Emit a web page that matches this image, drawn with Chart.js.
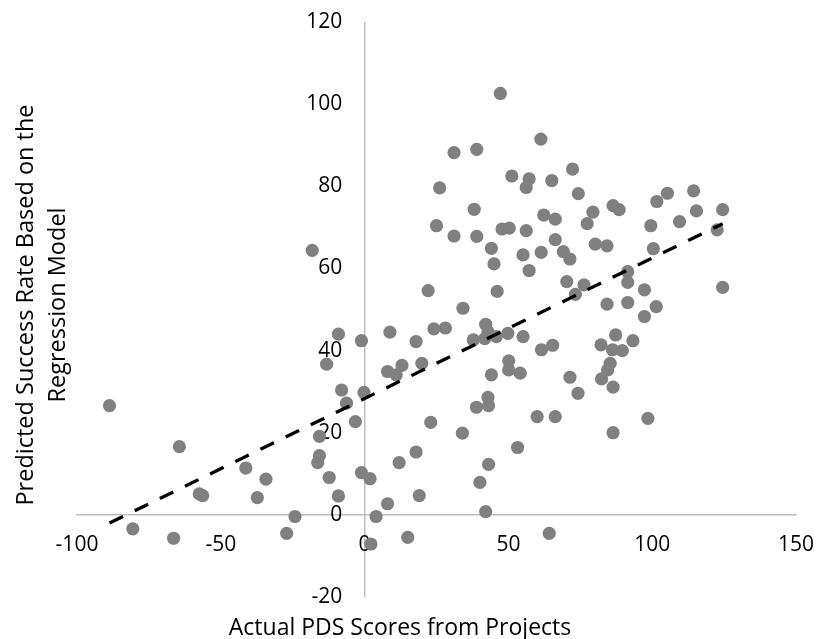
<!DOCTYPE html>
<html>
<head>
<meta charset="utf-8">
<title>Predicted Success Rate vs Actual PDS Scores</title>
<script src="https://cdn.jsdelivr.net/npm/chart.js@4.4.1/dist/chart.umd.min.js"></script>
<style>
    html, body { margin: 0; padding: 0; background: #fff; }
    #wrap { width: 832px; height: 639px; position: relative; }
</style>
</head>
<body>
<div id="wrap"><canvas id="pdsChart"></canvas></div>
<script>
// Actual PDS scores (x) for each project
const pdsScores = [
    -88.7, -64.4, -41.3, -34.3, -57.5, -56.3, -37.3, -80.6, -66.4, -24.2,
    -27.1, -15.7, -15.7, -16.3, -12.3, 34.2, -9.1, 8.8, -1.1, 24.1,
    28.1, 17.9, 42.1, 42.9, 37.8, 41.8, 45.8, 49.8, 55.1, 61.5,
    -13.2, 8, 11, 13, 19.9, 50.1, 50.1, 54.1, 44.1, -8,
    -6.3, -0.2, -3.2, 23, 42.9, 43.1, 38.9, 34, 60, -9.1,
    -1.1, 1.9, 12, 17.9, 53.2, 43.1, 40.1, 19, 8, 4,
    42.1, 15, 2.2, -18.2, 25, 22.1, 47.2, 61.3, 31.1, 39,
    26.1, 72.3, 51.2, 57.2, 56.2, 65.1, 74.3, 86.4, 88.5, 79.4,
    38.1, 62.3, 66.3, 77.4, 47.8, 50.3, 56.2, 31.1, 39, 66.3,
    80.2, 84.3, 44.1, 61.4, 69.1, 71.4, 55.1, 45, 57.2, 70.3,
    76.3, 73.3, 91.5, 91.5, 84.3, 91.5, 46.1, 101.6, 105.3, 114.4,
    115.4, 124.5, 109.5, 99.5, 122.6, 100.4, 97.3, 101.4, 97.3, 124.5,
    65.4, 82.2, 87.3, 93.3, 86.2, 89.6, 85.4, 84.5, 82.4, 71.4,
    74.2, 86.4, 66.3, 98.5, 86.4, 64.2
];

// Predicted success rate (y) from the regression model, same order
const predictedRates = [
    26.6, 16.6, 11.4, 8.7, 5.1, 4.7, 4.2, -3.4, -5.7, -0.4,
    -4.5, 19.1, 14.4, 12.7, 9.1, 50.3, 44.0, 44.5, 42.4, 45.3,
    45.5, 42.2, 46.4, 44.6, 42.6, 42.9, 43.4, 44.2, 43.4, 40.2,
    36.7, 34.9, 34.1, 36.4, 36.9, 37.5, 35.3, 34.5, 34.1, 30.4,
    27.2, 29.8, 22.7, 22.5, 28.6, 26.6, 26.2, 19.9, 23.9, 4.6,
    10.3, 8.8, 12.7, 15.3, 16.4, 12.3, 7.9, 4.7, 2.7, -0.4,
    0.8, -5.5, -7.1, 64.4, 70.4, 54.6, 102.6, 91.5, 88.2, 89,
    79.6, 84.2, 82.5, 81.8, 79.7, 81.4, 78.2, 75.3, 74.3, 73.7,
    74.4, 73, 72, 70.9, 69.6, 69.8, 69.2, 67.9, 67.8, 67,
    65.9, 65.5, 64.9, 63.9, 64.1, 62.3, 63.3, 61.1, 59.5, 56.8,
    56, 53.7, 59.2, 56.6, 51.3, 51.7, 54.4, 76.3, 78.3, 78.9,
    74, 74.3, 71.4, 70.4, 69.4, 64.8, 54.8, 50.7, 48.3, 55.4,
    41.3, 41.4, 43.8, 42.4, 40.2, 40, 36.9, 35.3, 33.1, 33.5,
    29.6, 31.1, 23.9, 23.5, 20, -4.5
];

// Linear trendline end points
const trendX = [-88.7, 124.5];
const trendY = [-2.0, 70.9];

// Axis ranges / ticks
const xTicks = [-100, -50, 0, 50, 100, 150];
const yTicks = [-20, 0, 20, 40, 60, 80, 100, 120];

const xTitle = 'Actual PDS Scores from Projects';
const yTitleLines = ['Predicted Success Rate Based on the', 'Regression Model'];

const AXIS_COLOR = '#bfbfbf';
const POINT_COLOR = '#808080';
const TEXT_COLOR = '#000000';
const FONT_FAMILY = '"Open Sans", sans-serif';

// y labels sit a little left of the x = 0 axis line
const Y_LABEL_AT = -7.8;

let pdsChart = null;

/**
 * Draws the two axis titles (x below, y rotated on the left)
 */
const axisTitlesPlugin = {
    id: 'axisTitles',
    afterDraw(chart) {
        const ctx = chart.ctx;
        ctx.save();
        ctx.fillStyle = TEXT_COLOR;
        ctx.textAlign = 'center';
        ctx.textBaseline = 'alphabetic';
        ctx.font = '23px ' + FONT_FAMILY;
        ctx.fillText(xTitle, 400, 635);

        ctx.font = '23.5px ' + FONT_FAMILY;
        ctx.translate(0, 305);
        ctx.rotate(-Math.PI / 2);
        yTitleLines.forEach((line, i) => {
            ctx.fillText(line, 0, 33 + i * 32);
        });
        ctx.restore();
    }
};

function buildChart() {
    const ctx = document.getElementById('pdsChart').getContext('2d');

    Chart.defaults.font.family = FONT_FAMILY;
    Chart.defaults.color = TEXT_COLOR;

    const points = pdsScores.map((x, i) => ({ x: x, y: predictedRates[i] }));
    const trend = trendX.map((x, i) => ({ x: x, y: trendY[i] }));

    pdsChart = new Chart(ctx, {
        type: 'scatter',
        data: {
            datasets: [
                {
                    label: 'Linear trend',
                    type: 'line',
                    data: trend,
                    borderColor: '#000000',
                    borderWidth: 3.3,
                    borderDash: [15, 13],
                    borderCapStyle: 'butt',
                    pointRadius: 0,
                    fill: false,
                    order: 0
                },
                {
                    label: 'Projects',
                    data: points,
                    backgroundColor: POINT_COLOR,
                    borderWidth: 0,
                    pointRadius: 6.6,
                    pointHoverRadius: 6.6,
                    order: 1
                }
            ]
        },
        options: {
            responsive: true,
            maintainAspectRatio: false,
            animation: false,
            layout: {
                padding: { left: 77, right: 22, top: 22, bottom: 42 }
            },
            plugins: {
                legend: { display: false },
                tooltip: { enabled: false }
            },
            scales: {
                x: {
                    type: 'linear',
                    position: { y: 0 },
                    min: xTicks[0],
                    max: xTicks[xTicks.length - 1],
                    afterBuildTicks: function(scale) {
                        scale.ticks = xTicks.map(v => ({ value: v }));
                    },
                    grid: {
                        drawTicks: false,
                        lineWidth: 1.5,
                        color: function(c) {
                            return c.tick && c.tick.value === 0 ? AXIS_COLOR : 'rgba(0,0,0,0)';
                        }
                    },
                    border: { display: true, color: AXIS_COLOR, width: 1.5 },
                    ticks: {
                        padding: 18,
                        font: { size: 21 },
                        color: TEXT_COLOR
                    }
                },
                y: {
                    type: 'linear',
                    position: { x: Y_LABEL_AT },
                    min: yTicks[0],
                    max: yTicks[yTicks.length - 1],
                    afterBuildTicks: function(scale) {
                        scale.ticks = yTicks.map(v => ({ value: v }));
                    },
                    grid: { display: false, drawTicks: false },
                    border: { display: false },
                    ticks: {
                        padding: 0,
                        font: { size: 21 },
                        color: TEXT_COLOR
                    }
                }
            }
        },
        plugins: [axisTitlesPlugin]
    });
}

buildChart();
</script>
</body>
</html>
